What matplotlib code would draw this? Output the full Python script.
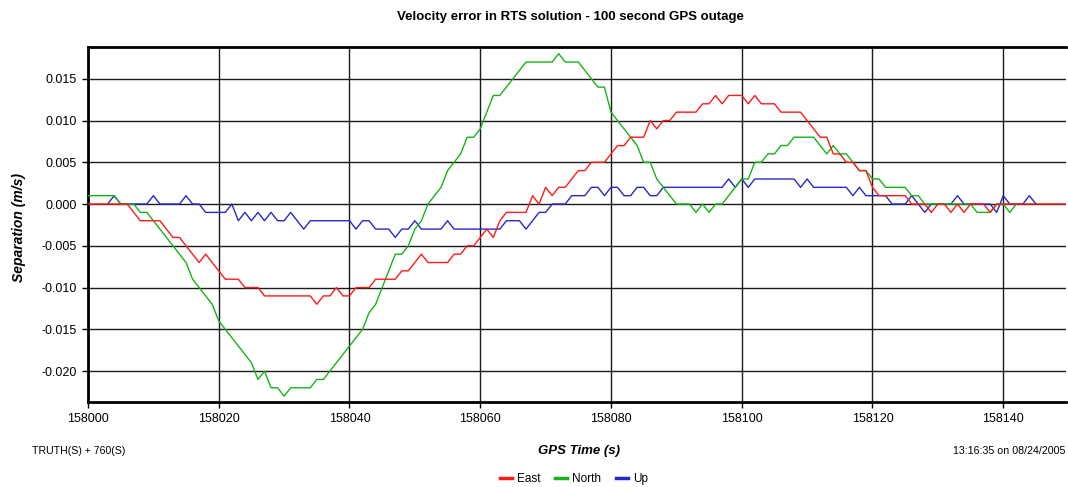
import numpy as np
import matplotlib
matplotlib.use('Agg')
import matplotlib.pyplot as plt

plt.rcParams['font.family'] = ['Liberation Sans', 'DejaVu Sans']

# GPS time of the first sample of each series (1 s sampling)
t0_east = 158000
t0_north = 158000
t0_up = 158003

# velocity errors, in mm/s (one value per second)
east_mm = [
    0, 0, 0, 0, 0, 0, 0, -1, -2, -2,
    -2, -2, -3, -4, -4, -5, -6, -7, -6, -7,
    -8, -9, -9, -9, -10, -10, -10, -11, -11, -11,
    -11, -11, -11, -11, -11, -12, -11, -11, -10, -11,
    -11, -10, -10, -10, -9, -9, -9, -9, -8, -8,
    -7, -6, -7, -7, -7, -7, -6, -6, -5, -5,
    -4, -3, -4, -2, -1, -1, -1, -1, 1, 0,
    2, 1, 2, 2, 3, 4, 4, 5, 5, 5,
    6, 7, 7, 8, 8, 8, 10, 9, 10, 10,
    11, 11, 11, 11, 12, 12, 13, 12, 13, 13,
    13, 12, 13, 12, 12, 12, 11, 11, 11, 11,
    10, 9, 8, 8, 6, 6, 5, 5, 4, 4,
    2, 1, 1, 1, 1, 1, 0, 0, 0, -1,
    0, 0, -1, 0, -1, 0, 0, 0, -1, 0,
    0, 0, 0, 0, 0, 0, 0, 0, 0, 0, 0,
]

north_mm = [
    1, 1, 1, 1, 1, 0, 0, 0, -1, -1,
    -2, -3, -4, -5, -6, -7, -9, -10, -11, -12,
    -14, -15, -16, -17, -18, -19, -21, -20, -22, -22,
    -23, -22, -22, -22, -22, -21, -21, -20, -19, -18,
    -17, -16, -15, -13, -12, -10, -8, -6, -6, -5,
    -3, -2, 0, 1, 2, 4, 5, 6, 8, 8,
    9, 11, 13, 13, 14, 15, 16, 17, 17, 17,
    17, 17, 18, 17, 17, 17, 16, 15, 14, 14,
    11, 10, 9, 8, 7, 5, 5, 3, 2, 1,
    0, 0, 0, -1, 0, -1, 0, 0, 1, 2,
    3, 3, 5, 5, 6, 6, 7, 7, 8, 8,
    8, 8, 7, 6, 7, 6, 6, 5, 4, 4,
    3, 3, 2, 2, 2, 2, 1, 1, 0, 0,
    0, 0, 0, 0, 0, 0, -1, -1, -1, 0,
    0, -1, 0,
]

up_mm = [
    0, 1, 0, 0, 0, 0, 0,
    1, 0, 0, 0, 0, 1, 0, 0, -1, -1,
    -1, -1, 0, -2, -1, -2, -1, -2, -1, -2,
    -2, -1, -2, -3, -2, -2, -2, -2, -2, -2,
    -2, -3, -2, -2, -3, -3, -3, -4, -3, -3,
    -2, -3, -3, -3, -3, -2, -3, -3, -3, -3,
    -3, -3, -3, -3, -2, -2, -2, -3, -2, -1,
    -1, 0, 0, 0, 1, 1, 1, 2, 2, 1,
    2, 2, 1, 1, 2, 2, 1, 1, 2, 2,
    2, 2, 2, 2, 2, 2, 2, 2, 3, 2,
    3, 2, 3, 3, 3, 3, 3, 3, 3, 2,
    3, 2, 2, 2, 2, 2, 2, 1, 2, 1,
    1, 1, 1, 0, 0, 0, 1, 0, -1, 0,
    0, 0, 0, 1, 0, 0, 0, 0, 0, -1,
    1, 0, 0, 0, 1, 0,
]

x_ticks = [158000, 158020, 158040, 158060, 158080, 158100, 158120, 158140]
y_ticks = [-0.020, -0.015, -0.010, -0.005, 0.000, 0.005, 0.010, 0.015]

east = np.array(east_mm) / 1000.0
north = np.array(north_mm) / 1000.0
up = np.array(up_mm) / 1000.0
t_east = t0_east + np.arange(len(east))
t_north = t0_north + np.arange(len(north))
t_up = t0_up + np.arange(len(up))

fig = plt.figure(figsize=(10.68, 4.87), dpi=100)
ax = fig.add_axes([88 / 1068, 1 - 402 / 487, 978 / 1068, 355 / 487])

# grid first, curves on top
ax.grid(True, color='#1a1a1a', linewidth=1.0)
ax.set_axisbelow(True)

l_up, = ax.plot(t_up, up, color='#2828c8', linewidth=1.0, label='Up', zorder=3)
l_north, = ax.plot(t_north, north, color='#16b416', linewidth=1.0, label='North', zorder=4)
l_east, = ax.plot(t_east, east, color='#ff1a1a', linewidth=1.0, label='East', zorder=5)

ax.set_xlim(158000, 158149.6)
ax.set_ylim(-0.0237, 0.0188)
ax.set_xticks(x_ticks)
ax.set_xticklabels([str(v) for v in x_ticks])
ax.set_yticks(y_ticks)
ax.set_yticklabels(['%.3f' % v for v in y_ticks])
ax.tick_params(direction='out', length=4, width=1, labelsize=9, pad=4)

for side in ['top', 'left', 'bottom']:
    ax.spines[side].set_linewidth(2.0)
ax.spines['right'].set_visible(False)

fig.text(0.534, 1 - 17 / 487, 'Velocity error in RTS solution - 100 second GPS outage',
         ha='center', va='center', fontsize=9.5, fontweight='bold')
fig.text(19 / 1068, 1 - 228 / 487, 'Separation (m/s)', rotation=90,
         ha='center', va='center', fontsize=10, fontweight='bold', fontstyle='italic')
fig.text(579 / 1068, 1 - 451 / 487, 'GPS Time (s)',
         ha='center', va='center', fontsize=9.5, fontweight='bold', fontstyle='italic')
fig.text(32 / 1068, 1 - 451 / 487, 'TRUTH(S) + 760(S)',
         ha='left', va='center', fontsize=7.6)
fig.text(1065 / 1068, 1 - 451 / 487, '13:16:35 on 08/24/2005',
         ha='right', va='center', fontsize=7.7)

fig.legend(handles=[l_east, l_north, l_up], loc='center',
           bbox_to_anchor=(574 / 1068, 1 - 479 / 487), ncol=3, frameon=False,
           fontsize=8.5, handlelength=1.0, handletextpad=0.4, columnspacing=1.3)
for h in fig.legends[0].legend_handles:
    h.set_linewidth(2.5)

fig.savefig('out.png', dpi=100)
